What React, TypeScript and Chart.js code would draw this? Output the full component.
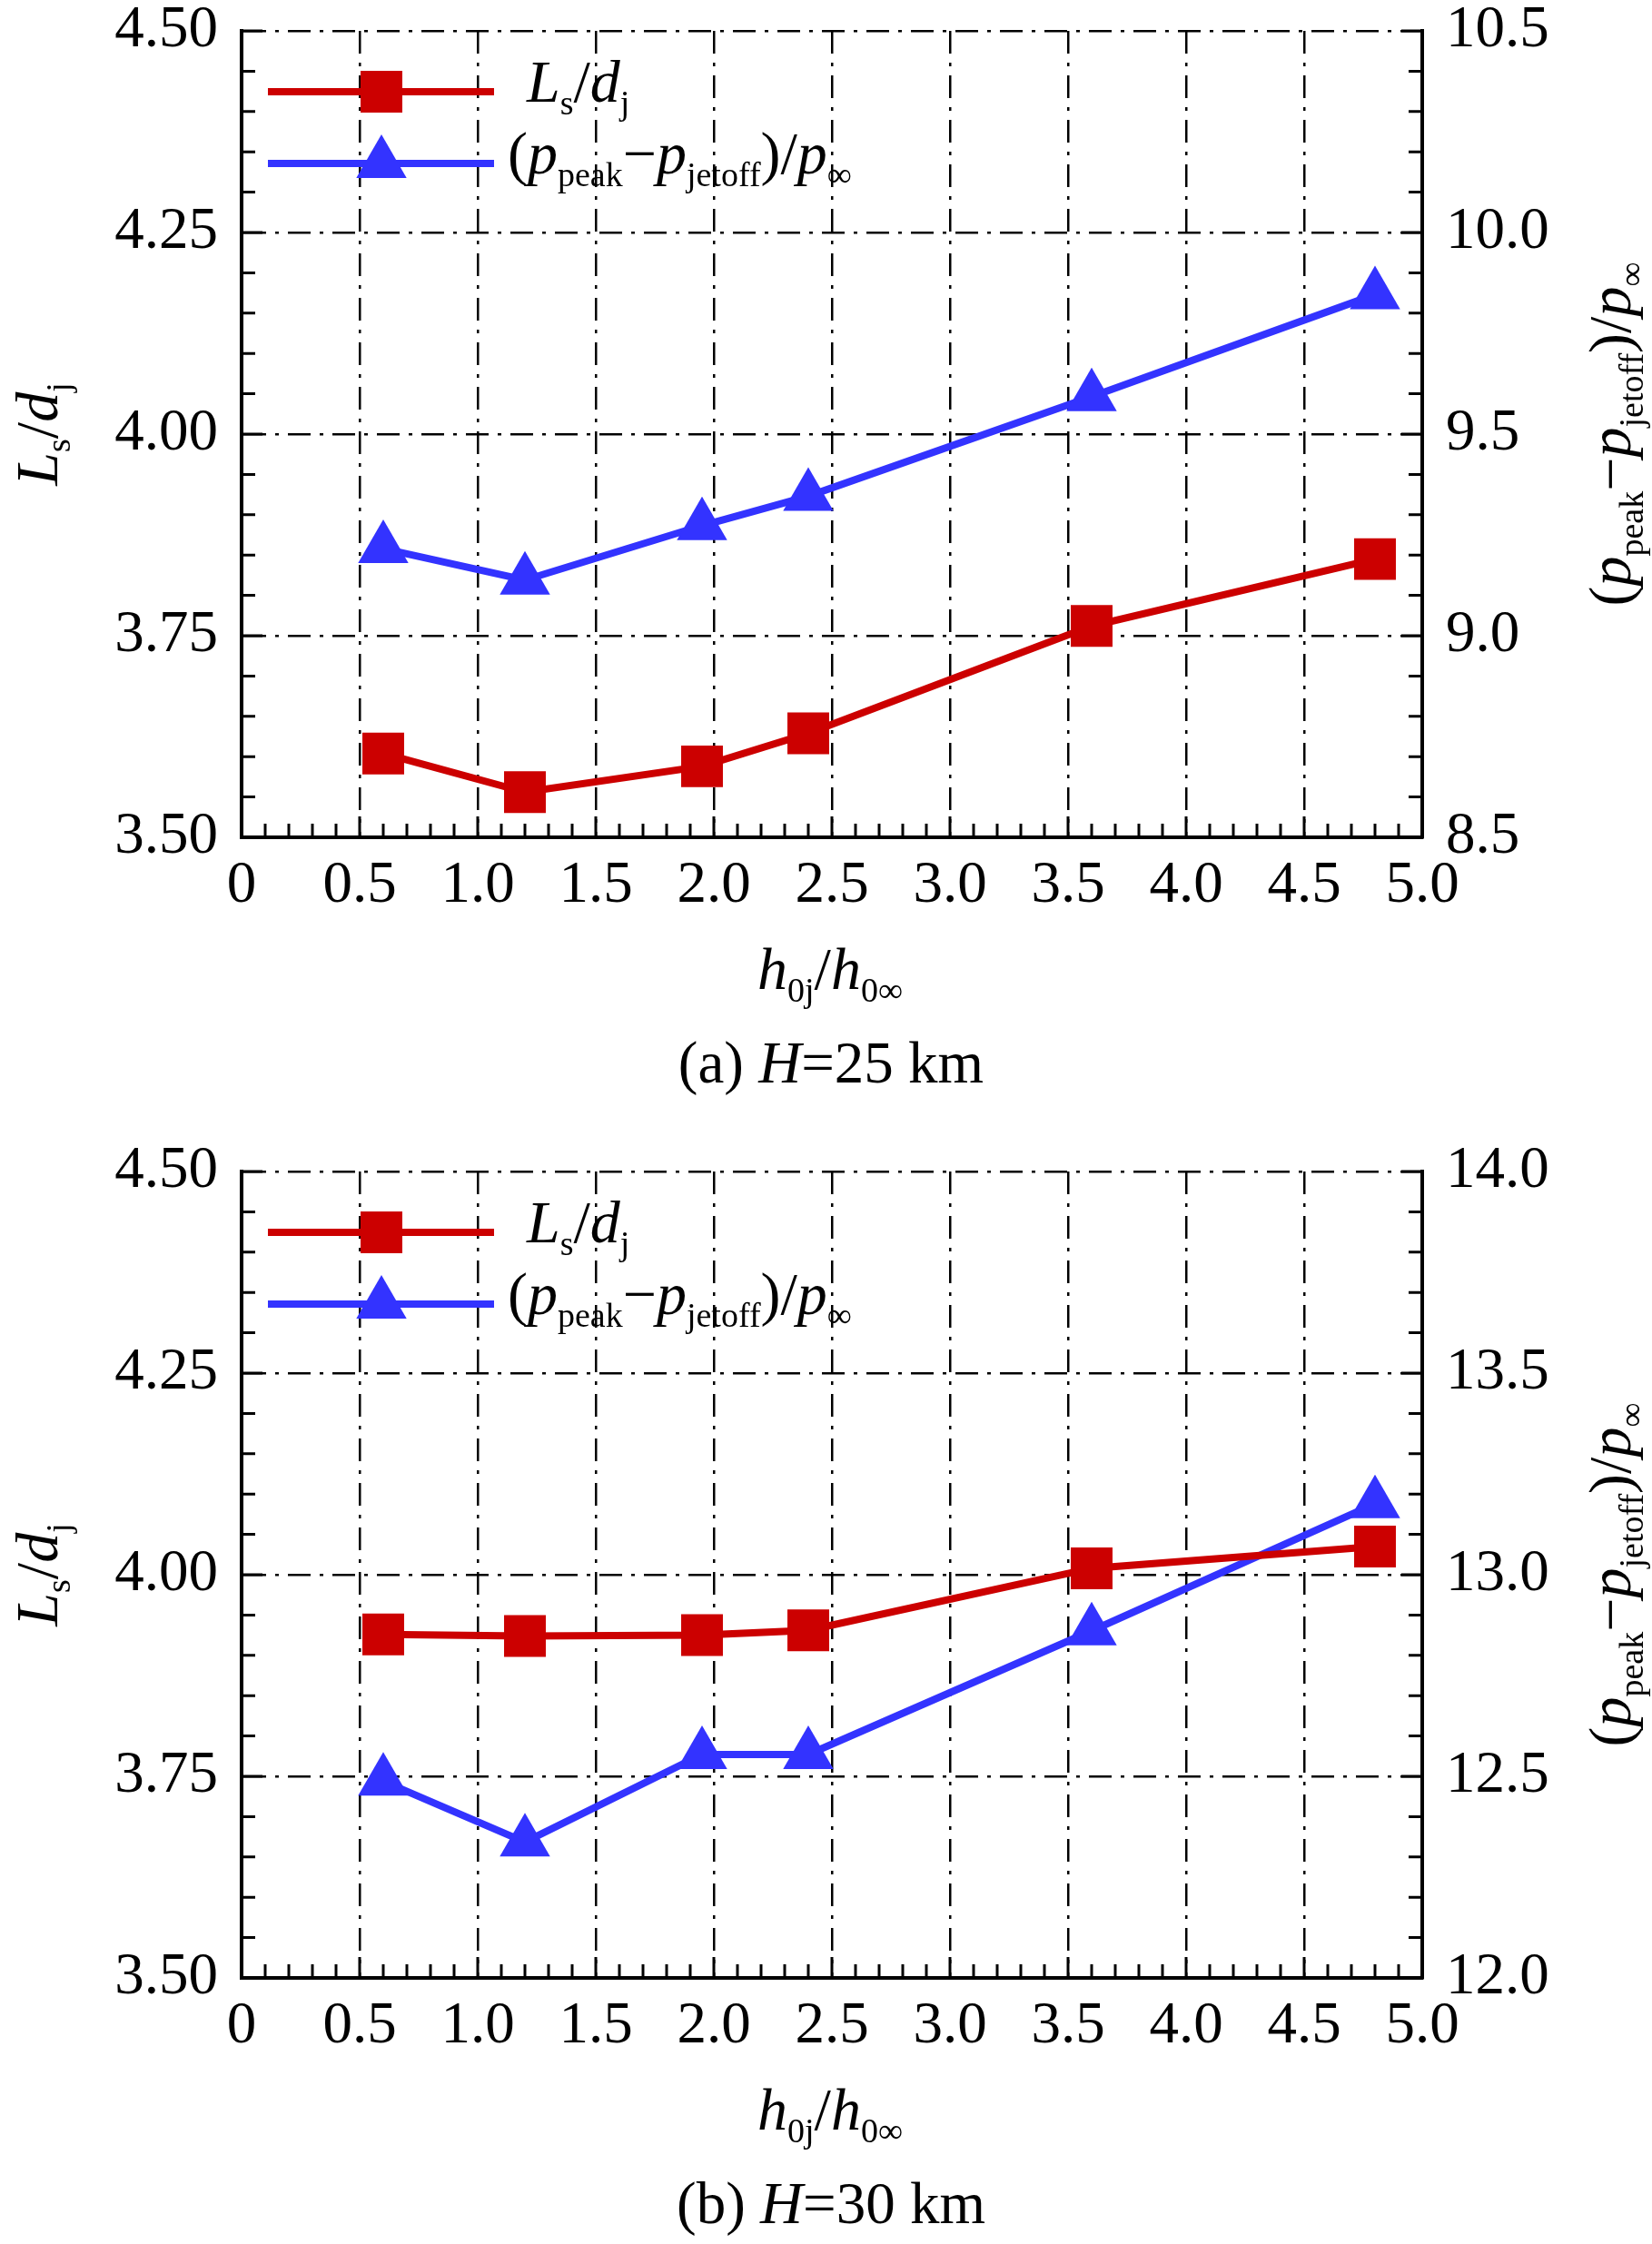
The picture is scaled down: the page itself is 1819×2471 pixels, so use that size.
import React, { useEffect, useRef } from 'react';
import { Chart, registerables } from 'chart.js';

Chart.register(...registerables);

// ---------------- data ----------------
const xValues = [0.6, 1.2, 1.95, 2.4, 3.6, 4.8];

const lsA = [3.604, 3.556, 3.588, 3.629, 3.762, 3.845];
const dpA = [9.216, 9.138, 9.273, 9.346, 9.593, 9.846];

const lsB = [3.926, 3.924, 3.925, 3.931, 4.008, 4.035];
const dpB = [12.488, 12.337, 12.554, 12.554, 12.861, 13.176];

const xTickValues = [0, 0.5, 1, 1.5, 2, 2.5, 3, 3.5, 4, 4.5, 5];
const xTickLabels = ['0', '0.5', '1.0', '1.5', '2.0', '2.5', '3.0', '3.5', '4.0', '4.5', '5.0'];

const leftTickValues = [3.5, 3.75, 4.0, 4.25, 4.5];
const leftTickLabels = ['3.50', '3.75', '4.00', '4.25', '4.50'];

const rightTickValuesA = [8.5, 9.0, 9.5, 10.0, 10.5];
const rightTickLabelsA = ['8.5', '9.0', '9.5', '10.0', '10.5'];

const rightTickValuesB = [12.0, 12.5, 13.0, 13.5, 14.0];
const rightTickLabelsB = ['12.0', '12.5', '13.0', '13.5', '14.0'];

const captionA = { prefix: '(a) ', italic: 'H', rest: '=25 km' };
const captionB = { prefix: '(b) ', italic: 'H', rest: '=30 km' };

// ---------------- style ----------------
const W = 1819;
const FONT = '"Liberation Serif", "Times New Roman", Times, serif';
const RED = '#CC0000';
const BLUE = '#3333FF';
const PLOT_LEFT = 266;
const PLOT_RIGHT = 1566;
const PLOT_TOP = 34;
const PLOT_BOTTOM = 922;

type Seg = { t: string; it?: boolean; sub?: boolean };

const TITLE_SIZE = 66;
const SUB_SIZE = 38;
const SUB_DY = 14;

function drawRich(
  ctx: CanvasRenderingContext2D,
  segs: Seg[],
  x: number,
  y: number,
  align: 'left' | 'center',
  rotate: boolean,
  size = TITLE_SIZE,
  subSize = SUB_SIZE,
  subDy = SUB_DY
) {
  const fontOf = (s: Seg) => `${s.it ? 'italic ' : ''}${s.sub ? subSize : size}px ${FONT}`;
  let w = 0;
  for (const s of segs) {
    ctx.font = fontOf(s);
    w += ctx.measureText(s.t).width;
  }
  ctx.save();
  ctx.translate(x, y);
  if (rotate) ctx.rotate(-Math.PI / 2);
  ctx.textAlign = 'left';
  ctx.textBaseline = 'alphabetic';
  ctx.fillStyle = '#000';
  let cx = align === 'center' ? -w / 2 : 0;
  for (const s of segs) {
    ctx.font = fontOf(s);
    ctx.fillText(s.t, cx, s.sub ? subDy : 0);
    cx += ctx.measureText(s.t).width;
  }
  ctx.restore();
}

const lsLabel: Seg[] = [
  { t: 'L', it: true },
  { t: 's', sub: true },
  { t: '/' },
  { t: 'd', it: true },
  { t: 'j', sub: true },
];

const dpLabel: Seg[] = [
  { t: '(' },
  { t: 'p', it: true },
  { t: 'peak', sub: true },
  { t: '\u2212' },
  { t: 'p', it: true },
  { t: 'jetoff', sub: true },
  { t: ')/' },
  { t: 'p', it: true },
  { t: '\u221E', sub: true },
];

const xLabel: Seg[] = [
  { t: 'h', it: true },
  { t: '0j', sub: true },
  { t: '/' },
  { t: 'h', it: true },
  { t: '0\u221E', sub: true },
];

const SQ_R = 32.5;
const TRI_R = 32;

function drawSquare(ctx: CanvasRenderingContext2D, x: number, y: number, r: number, color: string) {
  const h = r * Math.SQRT1_2;
  ctx.fillStyle = color;
  ctx.fillRect(x - h, y - h, 2 * h, 2 * h);
}

function drawTriangle(ctx: CanvasRenderingContext2D, x: number, y: number, r: number, color: string) {
  ctx.fillStyle = color;
  ctx.beginPath();
  let rad = 0;
  for (let i = 0; i < 3; i++) {
    const px = x + Math.sin(rad) * r;
    const py = y - Math.cos(rad) * r;
    if (i === 0) ctx.moveTo(px, py);
    else ctx.lineTo(px, py);
    rad += (2 * Math.PI) / 3;
  }
  ctx.closePath();
  ctx.fill();
}

type PanelCfg = {
  height: number;
  ls: number[];
  dp: number[];
  rightMin: number;
  rightMax: number;
  rightTickValues: number[];
  rightTickLabels: string[];
  caption: { prefix: string; italic: string; rest: string };
};

function makePlugin(cfg: PanelCfg) {
  return {
    id: 'decor',
    afterDraw(chart: any) {
      const ctx: CanvasRenderingContext2D = chart.ctx;
      const { left, right, top, bottom } = chart.chartArea;
      const sx = chart.scales.x;
      const sy = chart.scales.y;
      ctx.save();
      ctx.strokeStyle = '#000';
      ctx.lineWidth = 3;
      ctx.setLineDash([]);
      // x minor / major ticks (inward from bottom)
      for (let i = 0; i <= 50; i++) {
        const v = i / 10;
        const px = sx.getPixelForValue(v);
        const len = i % 5 === 0 ? 23 : 15;
        ctx.beginPath();
        ctx.moveTo(px, bottom);
        ctx.lineTo(px, bottom - len);
        ctx.stroke();
      }
      // y minor / major ticks (left and right, inward)
      for (let i = 0; i <= 20; i++) {
        const v = 3.5 + i * 0.05;
        const py = sy.getPixelForValue(v);
        const len = i % 5 === 0 ? 23 : 15;
        ctx.beginPath();
        ctx.moveTo(left, py);
        ctx.lineTo(left + len, py);
        ctx.moveTo(right, py);
        ctx.lineTo(right - len, py);
        ctx.stroke();
      }
      ctx.restore();

      // legend
      const rows = [
        { y: top + 67, color: RED, kind: 'sq', label: lsLabel, tx: left + 314 },
        { y: top + 146, color: BLUE, kind: 'tri', label: dpLabel, tx: left + 293 },
      ];
      for (const r of rows) {
        ctx.save();
        ctx.strokeStyle = r.color;
        ctx.lineWidth = 8;
        ctx.beginPath();
        ctx.moveTo(left + 29, r.y);
        ctx.lineTo(left + 278, r.y);
        ctx.stroke();
        if (r.kind === 'sq') drawSquare(ctx, left + 154, r.y, SQ_R, r.color);
        else drawTriangle(ctx, left + 154, r.y, TRI_R, r.color);
        ctx.restore();
        drawRich(ctx, r.label, r.tx, r.y + 11, 'left', false);
      }

      // axis titles
      const cy = (top + bottom) / 2;
      drawRich(ctx, lsLabel, 63, cy, 'center', true);
      drawRich(ctx, dpLabel, 1795, cy, 'center', true);
      drawRich(ctx, xLabel, (left + right) / 2 - 2, bottom + 167, 'center', false);

      // caption
      const cap: Seg[] = [
        { t: cfg.caption.prefix },
        { t: cfg.caption.italic, it: true },
        { t: cfg.caption.rest },
      ];
      drawRich(ctx, cap, (left + right) / 2 - 1, bottom + 270, 'center', false, 65);
    },
  };
}

function fixedTicks(values: number[]) {
  return (scale: any) => {
    scale.ticks = values.map((v) => ({ value: v }));
  };
}

function labelFor(values: number[], labels: string[]) {
  return (v: any) => {
    const i = values.findIndex((t) => Math.abs(t - Number(v)) < 1e-9);
    return i >= 0 ? labels[i] : '';
  };
}

const tickFont = { family: FONT, size: 65 };
const DASH = [25, 10, 4, 10];

function buildConfig(cfg: PanelCfg): any {
  return {
    type: 'line',
    data: {
      datasets: [
        {
          label: 'Ls/dj',
          data: xValues.map((x, i) => ({ x, y: cfg.ls[i] })),
          yAxisID: 'y',
          borderColor: RED,
          backgroundColor: RED,
          borderWidth: 8,
          pointStyle: 'rect',
          pointRadius: SQ_R,
          pointBorderWidth: 0,
          pointBackgroundColor: RED,
          tension: 0,
        },
        {
          label: '(ppeak-pjetoff)/pinf',
          data: xValues.map((x, i) => ({ x, y: cfg.dp[i] })),
          yAxisID: 'y2',
          borderColor: BLUE,
          backgroundColor: BLUE,
          borderWidth: 8,
          pointStyle: 'triangle',
          pointRadius: TRI_R,
          pointBorderWidth: 0,
          pointBackgroundColor: BLUE,
          tension: 0,
        },
      ],
    },
    options: {
      animation: false,
      responsive: false,
      devicePixelRatio: 1,
      events: [],
      layout: { padding: { top: PLOT_TOP, left: 0, right: 0, bottom: 0 } },
      plugins: { legend: { display: false }, tooltip: { enabled: false }, title: { display: false } },
      scales: {
        x: {
          type: 'linear',
          position: 'bottom',
          min: 0,
          max: 5,
          afterBuildTicks: fixedTicks(xTickValues),
          ticks: {
            callback: labelFor(xTickValues, xTickLabels),
            font: tickFont,
            color: '#000',
            padding: 15,
            maxRotation: 0,
            minRotation: 0,
            autoSkip: false,
          },
          grid: {
            drawTicks: false,
            lineWidth: 2.5,
            color: (c: any) =>
              c.tick && (c.tick.value === 0 || c.tick.value === 5) ? 'rgba(0,0,0,0)' : '#000',
          },
          border: { display: true, color: '#000', width: 4, dash: DASH },
          afterFit: (s: any) => {
            s.height = cfg.height - PLOT_BOTTOM;
            s.paddingLeft = 0;
            s.paddingRight = 0;
          },
        },
        y: {
          type: 'linear',
          position: 'left',
          min: 3.5,
          max: 4.5,
          afterBuildTicks: fixedTicks(leftTickValues),
          ticks: {
            callback: labelFor(leftTickValues, leftTickLabels),
            font: tickFont,
            color: '#000',
            padding: 26,
            autoSkip: false,
          },
          grid: {
            drawTicks: false,
            lineWidth: 2.5,
            color: (c: any) => (c.tick && c.tick.value === 3.5 ? 'rgba(0,0,0,0)' : '#000'),
          },
          border: { display: true, color: '#000', width: 4, dash: DASH },
          afterFit: (s: any) => {
            s.width = PLOT_LEFT;
            s.paddingTop = 0;
            s.paddingBottom = 0;
          },
        },
        y2: {
          type: 'linear',
          position: 'right',
          min: cfg.rightMin,
          max: cfg.rightMax,
          afterBuildTicks: fixedTicks(cfg.rightTickValues),
          ticks: {
            callback: labelFor(cfg.rightTickValues, cfg.rightTickLabels),
            font: tickFont,
            color: '#000',
            padding: 26,
            autoSkip: false,
          },
          grid: { drawTicks: false, drawOnChartArea: false, color: 'rgba(0,0,0,0)' },
          border: { display: true, color: '#000', width: 4 },
          afterFit: (s: any) => {
            s.width = W - PLOT_RIGHT;
            s.paddingTop = 0;
            s.paddingBottom = 0;
          },
        },
      },
    },
    plugins: [makePlugin(cfg)],
  };
}

function Panel({ top, cfg }: { top: number; cfg: PanelCfg }) {
  const ref = useRef<HTMLCanvasElement | null>(null);
  useEffect(() => {
    if (!ref.current) return;
    const chart = new Chart(ref.current, buildConfig(cfg));
    return () => chart.destroy();
  }, []);
  return (
    <canvas
      ref={ref}
      width={W}
      height={cfg.height}
      style={{ position: 'absolute', left: 0, top, width: W, height: cfg.height, display: 'block' }}
    />
  );
}

const panelA: PanelCfg = {
  height: 1256,
  ls: lsA,
  dp: dpA,
  rightMin: 8.5,
  rightMax: 10.5,
  rightTickValues: rightTickValuesA,
  rightTickLabels: rightTickLabelsA,
  caption: captionA,
};

const panelB: PanelCfg = {
  height: 1215,
  ls: lsB,
  dp: dpB,
  rightMin: 12.0,
  rightMax: 14.0,
  rightTickValues: rightTickValuesB,
  rightTickLabels: rightTickLabelsB,
  caption: captionB,
};

export default function App() {
  return (
    <div style={{ position: 'absolute', left: 0, top: 0, width: W, height: 2471, background: '#fff' }}>
      <Panel top={0} cfg={panelA} />
      <Panel top={1256} cfg={panelB} />
    </div>
  );
}
